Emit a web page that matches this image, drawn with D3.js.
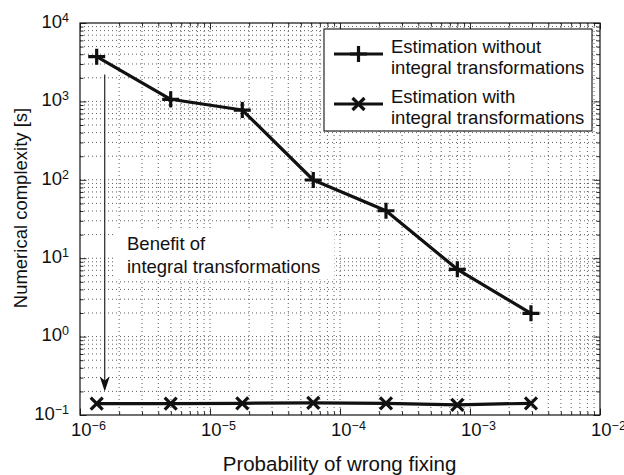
<!DOCTYPE html>
<html>
<head>
<meta charset="utf-8">
<script src="https://cdn.jsdelivr.net/npm/d3@7"></script>
<style>
  body { margin: 0; background: #fff; }
  svg { display: block; }
  text { font-family: "Liberation Sans", Arial, Helvetica, sans-serif; fill: #111; }
</style>
</head>
<body>
<svg id="chart" width="624" height="475"></svg>
<script>
// Probability of wrong fixing vs. run time, with and without integral transformations
const probability = [1.344e-6, 4.985e-6, 1.772e-5, 6.23e-5, 2.258e-4, 7.99e-4, 2.944e-3];
const timeWithout = [3715, 1064, 776, 99.4, 40.3, 7.22, 1.98];
const timeWith = [0.140, 0.140, 0.141, 0.143, 0.141, 0.135, 0.141];

const legendLabels = [
  ["Estimation without", "integral transformations"],
  ["Estimation with", "integral transformations"]
];

const xTickValues = [1e-6, 1e-5, 1e-4, 1e-3, 1e-2];
const xTickExponents = ["\u22126", "\u22125", "\u22124", "\u22123", "\u22122"];
const yTickValues = [1e-1, 1e0, 1e1, 1e2, 1e3, 1e4];
const yTickExponents = ["\u22121", "0", "1", "2", "3", "4"];

const xTitle = "Probability of wrong fixing";
const yTitle = "Numerical complexity [s]";

const noteLines = ["Benefit of", "integral transformations"];
const arrowAt = 1.55e-6;     // x position of the benefit arrow
const arrowFrom = 2200;      // arrow starts here (s)
const arrowTo = 0.2;         // arrow tip (s)

const svg = d3.select("#chart");
const L = 80, R = 600, T = 23, B = 415;
const ink = "#111";

const x = d3.scaleLog().domain([1e-6, 1e-2]).range([L, R]);
const y = d3.scaleLog().domain([1e-1, 1e4]).range([B, T]);

// dotted grid at every major and minor decade step
const grid = svg.append("g").attr("stroke", "#333").attr("stroke-width", 0.8)
  .attr("stroke-dasharray", "1,3").attr("fill", "none");
x.ticks().filter(v => x(v) > L + 0.5 && x(v) < R - 0.5).forEach(v => {
  grid.append("line").attr("x1", x(v)).attr("x2", x(v)).attr("y1", T).attr("y2", B);
});
y.ticks().filter(v => y(v) < B - 0.5 && y(v) > T + 0.5).forEach(v => {
  grid.append("line").attr("x1", L).attr("x2", R).attr("y1", y(v)).attr("y2", y(v));
});

// inward ticks on all four sides
function addAxis(axisFn, scale, transform) {
  const major = scale === x ? xTickValues : yTickValues;
  const minor = scale.ticks().filter(v => !major.some(m => Math.abs(Math.log10(m) - Math.log10(v)) < 1e-9));
  svg.append("g").attr("transform", transform)
    .call(axisFn(scale).tickValues(minor).tickSize(-3.5).tickFormat(""))
    .call(g => g.select(".domain").remove())
    .call(g => g.selectAll("line").attr("stroke", ink).attr("stroke-width", 0.9));
  svg.append("g").attr("transform", transform)
    .call(axisFn(scale).tickValues(major).tickSize(-6.5).tickFormat(""))
    .call(g => g.select(".domain").remove())
    .call(g => g.selectAll("line").attr("stroke", ink).attr("stroke-width", 0.9));
}
addAxis(d3.axisBottom, x, `translate(0,${B})`);
addAxis(d3.axisTop, x, `translate(0,${T})`);
addAxis(d3.axisLeft, y, `translate(${L},0)`);
addAxis(d3.axisRight, y, `translate(${R},0)`);

// annotation text with its white background
const note = svg.append("g");
const noteText = note.append("g");
noteLines.forEach((t, i) => {
  noteText.append("text").attr("x", 127).attr("y", 250 + i * 22.5)
    .attr("font-size", 18.5).text(t);
});
const nb = noteText.node().getBBox();
note.insert("rect", ":first-child")
  .attr("x", nb.x - 14).attr("y", nb.y - 2)
  .attr("width", nb.width + 28).attr("height", nb.height + 5)
  .attr("fill", "#fff");

// benefit arrow
const ax = x(arrowAt), ay0 = y(arrowFrom), ay1 = y(arrowTo);
svg.append("line").attr("x1", ax).attr("x2", ax).attr("y1", ay0).attr("y2", ay1 - 10)
  .attr("stroke", ink).attr("stroke-width", 1.1);
svg.append("path")
  .attr("d", `M${ax},${ay1} L${ax - 5},${ay1 - 15} L${ax},${ay1 - 11} L${ax + 5},${ay1 - 15} Z`)
  .attr("fill", ink);

// series lines
const line = d3.line().x(d => x(d[0])).y(d => y(d[1]));
const ptsWithout = probability.map((p, i) => [p, timeWithout[i]]);
const ptsWith = probability.map((p, i) => [p, timeWith[i]]);

svg.append("path").datum(ptsWithout).attr("d", line)
  .attr("fill", "none").attr("stroke", ink).attr("stroke-width", 3.2).attr("stroke-linejoin", "round");
svg.append("path").datum(ptsWith).attr("d", line)
  .attr("fill", "none").attr("stroke", ink).attr("stroke-width", 3.2).attr("stroke-linejoin", "round");

function plus(g, cx, cy) {
  g.append("path").attr("d", `M${cx - 8.5},${cy} H${cx + 8.5} M${cx},${cy - 8} V${cy + 8}`)
    .attr("stroke", ink).attr("stroke-width", 3.2).attr("fill", "none");
}
function cross(g, cx, cy) {
  const h = 6;
  g.append("path").attr("d", `M${cx - h},${cy - h} L${cx + h},${cy + h} M${cx - h},${cy + h} L${cx + h},${cy - h}`)
    .attr("stroke", ink).attr("stroke-width", 3.2).attr("fill", "none");
}
const marks = svg.append("g");
ptsWithout.forEach(d => plus(marks, x(d[0]), y(d[1])));
ptsWith.forEach(d => cross(marks, x(d[0]), y(d[1])));

// plot frame
svg.append("rect").attr("x", L).attr("y", T).attr("width", R - L).attr("height", B - T)
  .attr("fill", "none").attr("stroke", ink).attr("stroke-width", 1.2);

// tick labels as 10^n
function powerLabel(px, py, exp, anchor) {
  const t = svg.append("text").attr("x", px).attr("y", py).attr("text-anchor", anchor)
    .attr("font-size", 18.5);
  t.append("tspan").text("10");
  t.append("tspan").attr("dy", -6).attr("font-size", 12.5).text(exp);
}
xTickValues.forEach((v, i) => powerLabel(x(v) - 9, 436, xTickExponents[i], "start"));
yTickValues.forEach((v, i) => powerLabel(69, y(v) + 4.8, yTickExponents[i], "end"));

// axis titles
svg.append("text").attr("x", 339.5).attr("y", 470.5).attr("text-anchor", "middle")
  .attr("font-size", 20.5).text(xTitle);
svg.append("text").attr("transform", `translate(27,208) rotate(-90)`)
  .attr("text-anchor", "middle").attr("font-size", 18.5).text(yTitle);

// legend
const lg = svg.append("g");
lg.append("rect").attr("x", 324).attr("y", 29).attr("width", 268).attr("height", 102)
  .attr("fill", "#fff").attr("stroke", ink).attr("stroke-width", 1.1);
const legendRows = [54, 104];
legendRows.forEach((ly, i) => {
  lg.append("line").attr("x1", 334).attr("x2", 383).attr("y1", ly).attr("y2", ly)
    .attr("stroke", ink).attr("stroke-width", 3.2);
  if (i === 0) plus(lg, 358.5, ly); else cross(lg, 358.5, ly);
  legendLabels[i].forEach((t, j) => {
    lg.append("text").attr("x", 391).attr("y", ly - 1.5 + j * 21.5)
      .attr("font-size", 18.5).text(t);
  });
});
</script>
</body>
</html>
